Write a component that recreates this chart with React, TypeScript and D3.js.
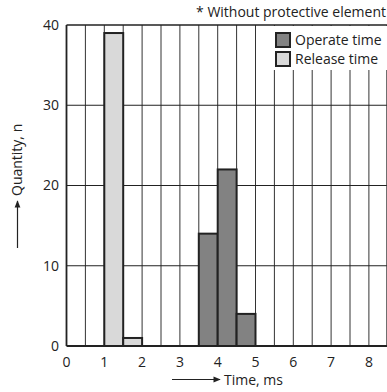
import React from "react";
import * as d3 from "d3";

// histogram bins (ms, left edge; width 0.5 ms)
const releaseBins = [1, 1.5];
const releaseCounts = [39, 1];
const operateBins = [3.5, 4, 4.5];
const operateCounts = [14, 22, 4];
const binWidth = 0.5;

const xTicks = [0, 1, 2, 3, 4, 5, 6, 7, 8];
const yTicks = [0, 10, 20, 30, 40];
const legendLabels = ["Operate time", "Release time"];

const W = 387, H = 392;
const FONT = "'Open Sans', sans-serif";
const FS = 14;

const App = () => {
  const x = d3.scaleLinear().domain([0, 8.5]).range([66.5, 387.8]);
  const y = d3.scaleLinear().domain([0, 40]).range([346, 25]);

  const vGrid = d3.range(0.5, 8.5, 0.5);
  const hGrid = [10, 20, 30];

  const bars = [
    ...releaseBins.map((b, i) => ({ x0: b, n: releaseCounts[i], fill: "#d9d9d9" })),
    ...operateBins.map((b, i) => ({ x0: b, n: operateCounts[i], fill: "#828282" })),
  ];

  return (
    <svg width={W} height={H} style={{ position: "absolute", left: 0, top: 0, background: "#fff" }}>
      <defs>
        <marker id="arr" viewBox="0 0 10 10" refX="9" refY="5" markerWidth="9" markerHeight="6" orient="auto">
          <path d="M0,1 L10,5 L0,9 z" fill="#222" />
        </marker>
      </defs>

      {/* grid */}
      {vGrid.map((v) => (
        <line key={"v" + v} x1={x(v)} x2={x(v)} y1={y(40)} y2={y(0)} stroke="#333" strokeWidth={1} />
      ))}
      {hGrid.map((v) => (
        <line key={"h" + v} x1={x(0)} x2={x(8.5)} y1={y(v)} y2={y(v)} stroke="#222" strokeWidth={1.2} />
      ))}

      {/* bars */}
      {bars.map((d, i) => (
        <rect
          key={i}
          x={x(d.x0)}
          y={y(d.n)}
          width={x(d.x0 + binWidth) - x(d.x0)}
          height={y(0) - y(d.n)}
          fill={d.fill}
          stroke="#222"
          strokeWidth={2}
        />
      ))}

      {/* frame */}
      <line x1={x(0)} x2={x(8.5)} y1={y(40)} y2={y(40)} stroke="#222" strokeWidth={1.5} />
      <line x1={x(0)} x2={x(0)} y1={y(40)} y2={y(0)} stroke="#222" strokeWidth={1.8} />
      <line x1={x(8.5) - 1} x2={x(8.5) - 1} y1={y(40)} y2={y(0)} stroke="#333" strokeWidth={1} />
      <line x1={x(0)} x2={x(8.5)} y1={y(0)} y2={y(0)} stroke="#222" strokeWidth={2} />

      {/* tick labels */}
      {yTicks.map((t) => (
        <text key={"yt" + t} x={59} y={y(t)} dy="0.35em" textAnchor="end" fontFamily={FONT} fontSize={FS} fill="#222">
          {t}
        </text>
      ))}
      {xTicks.map((t) => (
        <text key={"xt" + t} x={x(t)} y={362} dy="0.35em" textAnchor="middle" fontFamily={FONT} fontSize={FS} fill="#222">
          {t}
        </text>
      ))}

      {/* legend */}
      <rect x={273} y={26} width={114} height={44} fill="#fff" />
      {legendLabels.map((l, i) => (
        <g key={l} transform={`translate(276,${33 + i * 19})`}>
          <rect x={0} y={0} width={14} height={14} fill={i === 0 ? "#828282" : "#d9d9d9"} stroke="#222" strokeWidth={2} />
          <text x={19} y={7} dy="0.35em" fontFamily={FONT} fontSize={FS} fill="#222">
            {l}
          </text>
        </g>
      ))}

      {/* note */}
      <text x={386} y={17} textAnchor="end" fontFamily={FONT} fontSize={FS} fill="#222">
        * Without protective element
      </text>

      {/* axis titles */}
      <line x1={172} x2={220} y1={379.5} y2={379.5} stroke="#222" strokeWidth={1.2} markerEnd="url(#arr)" />
      <text x={224} y={385} fontFamily={FONT} fontSize={FS} fill="#222">
        Time, ms
      </text>
      <line x1={17.5} x2={17.5} y1={248} y2={201} stroke="#222" strokeWidth={1.2} markerEnd="url(#arr)" />
      <text transform="translate(22,196) rotate(-90)" fontFamily={FONT} fontSize={FS} fill="#222">
        Quantity, n
      </text>
    </svg>
  );
};

export default App;
